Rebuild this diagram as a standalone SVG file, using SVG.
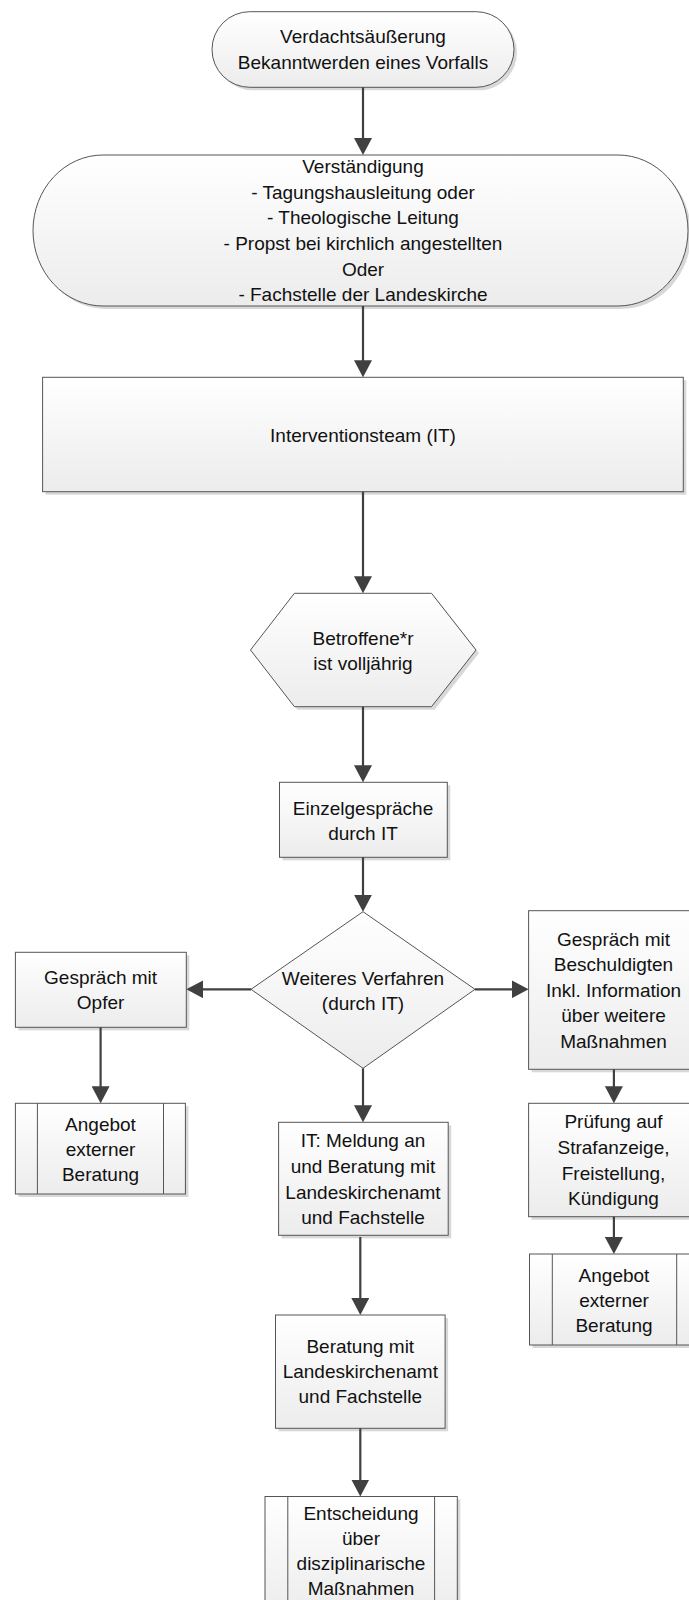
<svg xmlns="http://www.w3.org/2000/svg" width="689" height="1600" viewBox="0 0 689 1600">
<style>
.box{fill:url(#g);stroke:#555;stroke-width:1}
.sh{fill:#d8d8d8;stroke:none}
.in{stroke:#555;stroke-width:1;fill:none}
text{font-family:"Liberation Sans",Arial,sans-serif;font-size:19px;fill:#111;text-anchor:middle}
.c line{stroke:#404040;stroke-width:2.2;marker-end:url(#ah)}
</style>
<defs>
<linearGradient id="g" x1="0" y1="0" x2="0" y2="1">
<stop offset="0" stop-color="#ffffff"/>
<stop offset="1" stop-color="#ececec"/>
</linearGradient>
<marker id="ah" markerUnits="userSpaceOnUse" viewBox="0 0 17 18" refX="9" refY="9" markerWidth="17" markerHeight="18" orient="auto">
<path d="M0,0 L17,9 L0,18 Z" fill="#404040"/>
</marker>
</defs>
<rect width="689" height="1600" fill="#fff"/>

<g id="start">
<rect class="sh" x="215" y="14.7" width="302" height="75.6" rx="37.8"/>
<rect class="box" x="212" y="11.7" width="302" height="75.6" rx="37.8"/>
<text x="363" y="43.2">Verdachtsäußerung</text>
<text x="363" y="69.2">Bekanntwerden eines Vorfalls</text>
</g>

<g id="verstaendigung">
<rect class="sh" x="36" y="158" width="655" height="151" rx="70" ry="75.5"/>
<rect class="box" x="33" y="155" width="655" height="151" rx="70" ry="75.5"/>
<text x="363" y="173.2">Verständigung</text>
<text x="363" y="198.8">- Tagungshausleitung oder</text>
<text x="363" y="224.4">- Theologische Leitung</text>
<text x="363" y="250">- Propst bei kirchlich angestellten</text>
<text x="363" y="275.6">Oder</text>
<text x="363" y="301.2">- Fachstelle der Landeskirche</text>
</g>

<g id="it">
<rect class="sh" x="45.6" y="380.3" width="640.7" height="114.4"/>
<rect class="box" x="42.6" y="377.3" width="640.7" height="114.4"/>
<text x="363" y="441.5">Interventionsteam (IT)</text>
</g>

<g id="volljaehrig">
<polygon class="sh" transform="translate(3,3)" points="294.4,593.3 431.5,593.3 476,650 431.5,706.7 294.4,706.7 250.5,650"/>
<polygon class="box" points="294.4,593.3 431.5,593.3 476,650 431.5,706.7 294.4,706.7 250.5,650"/>
<text x="363" y="645">Betroffene*r</text>
<text x="363" y="670">ist volljährig</text>
</g>

<g id="einzel">
<rect class="sh" x="282.5" y="785.3" width="167.8" height="75"/>
<rect class="box" x="279.5" y="782.3" width="167.8" height="75"/>
<text x="363" y="815">Einzelgespräche</text>
<text x="363" y="840">durch IT</text>
</g>

<g id="verfahren">
<polygon class="box" points="363,911.7 475,989.3 363,1068.3 251,989.3"/>
<text x="363" y="985">Weiteres Verfahren</text>
<text x="363" y="1010">(durch IT)</text>
</g>

<g id="opfer">
<rect class="sh" x="18.4" y="955.3" width="170.9" height="75"/>
<rect class="box" x="15.4" y="952.3" width="170.9" height="75"/>
<text x="100.6" y="984">Gespräch mit</text>
<text x="100.6" y="1009">Opfer</text>
</g>

<g id="angebot-links">
<rect class="sh" x="18.4" y="1106.3" width="170" height="90.7"/>
<rect class="box" x="15.4" y="1103.3" width="170" height="90.7"/>
<line class="in" x1="37.4" y1="1103.3" x2="37.4" y2="1194"/>
<line class="in" x1="163.5" y1="1103.3" x2="163.5" y2="1194"/>
<text x="100.5" y="1130.5">Angebot</text>
<text x="100.5" y="1155.5">externer</text>
<text x="100.5" y="1180.5">Beratung</text>
</g>

<g id="beschuldigte">
<rect class="sh" x="531.6" y="913.7" width="170" height="158.6"/>
<rect class="box" x="528.6" y="910.7" width="170" height="158.6"/>
<text x="613.5" y="945.5">Gespräch mit</text>
<text x="613.5" y="971">Beschuldigten</text>
<text x="613.5" y="996.5">Inkl. Information</text>
<text x="613.5" y="1022">über weitere</text>
<text x="613.5" y="1047.5">Maßnahmen</text>
</g>

<g id="pruefung">
<rect class="sh" x="531.6" y="1106.3" width="170" height="113.4"/>
<rect class="box" x="528.6" y="1103.3" width="170" height="113.4"/>
<text x="613.5" y="1128">Prüfung auf</text>
<text x="613.5" y="1154">Strafanzeige,</text>
<text x="613.5" y="1179.5">Freistellung,</text>
<text x="613.5" y="1205">Kündigung</text>
</g>

<g id="angebot-rechts">
<rect class="sh" x="532.5" y="1257" width="170" height="91"/>
<rect class="box" x="529.5" y="1254" width="170" height="91"/>
<line class="in" x1="552.3" y1="1254" x2="552.3" y2="1345"/>
<line class="in" x1="676.7" y1="1254" x2="676.7" y2="1345"/>
<text x="614" y="1281.5">Angebot</text>
<text x="614" y="1307">externer</text>
<text x="614" y="1332">Beratung</text>
</g>

<g id="meldung">
<rect class="sh" x="281.6" y="1125.3" width="169.6" height="113"/>
<rect class="box" x="278.6" y="1122.3" width="169.6" height="113"/>
<text x="363" y="1147">IT: Meldung an</text>
<text x="363" y="1173">und Beratung mit</text>
<text x="363" y="1198.5">Landeskirchenamt</text>
<text x="363" y="1224">und Fachstelle</text>
</g>

<g id="beratung">
<rect class="sh" x="278.5" y="1318" width="169.6" height="113.3"/>
<rect class="box" x="275.5" y="1315" width="169.6" height="113.3"/>
<text x="360.3" y="1353">Beratung mit</text>
<text x="360.3" y="1378">Landeskirchenamt</text>
<text x="360.3" y="1403">und Fachstelle</text>
</g>

<g id="entscheidung">
<rect class="sh" x="268" y="1499.5" width="192.3" height="120"/>
<rect class="box" x="265" y="1496.5" width="192.3" height="120"/>
<line class="in" x1="287.8" y1="1496.5" x2="287.8" y2="1616"/>
<line class="in" x1="434.6" y1="1496.5" x2="434.6" y2="1616"/>
<text x="361" y="1520">Entscheidung</text>
<text x="361" y="1545">über</text>
<text x="361" y="1570">disziplinarische</text>
<text x="361" y="1595">Maßnahmen</text>
</g>

<g id="connectors" class="c">
<line x1="363" y1="87.3" x2="363" y2="147"/>
<line x1="363" y1="306" x2="363" y2="369.3"/>
<line x1="363" y1="491.7" x2="363" y2="585.3"/>
<line x1="363" y1="706.7" x2="363" y2="774.3"/>
<line x1="363" y1="857.3" x2="363" y2="903.7"/>
<line x1="251" y1="989.3" x2="194.3" y2="989.3"/>
<line x1="475" y1="989.3" x2="520.6" y2="989.3"/>
<line x1="100.6" y1="1027.3" x2="100.6" y2="1095.3"/>
<line x1="613.9" y1="1069.3" x2="613.9" y2="1095.3"/>
<line x1="613.9" y1="1216.7" x2="613.9" y2="1246"/>
<line x1="363" y1="1068.3" x2="363" y2="1114.3"/>
<line x1="360.3" y1="1237" x2="360.3" y2="1307"/>
<line x1="360.3" y1="1428.3" x2="360.3" y2="1488.5"/>
</g>
</svg>
